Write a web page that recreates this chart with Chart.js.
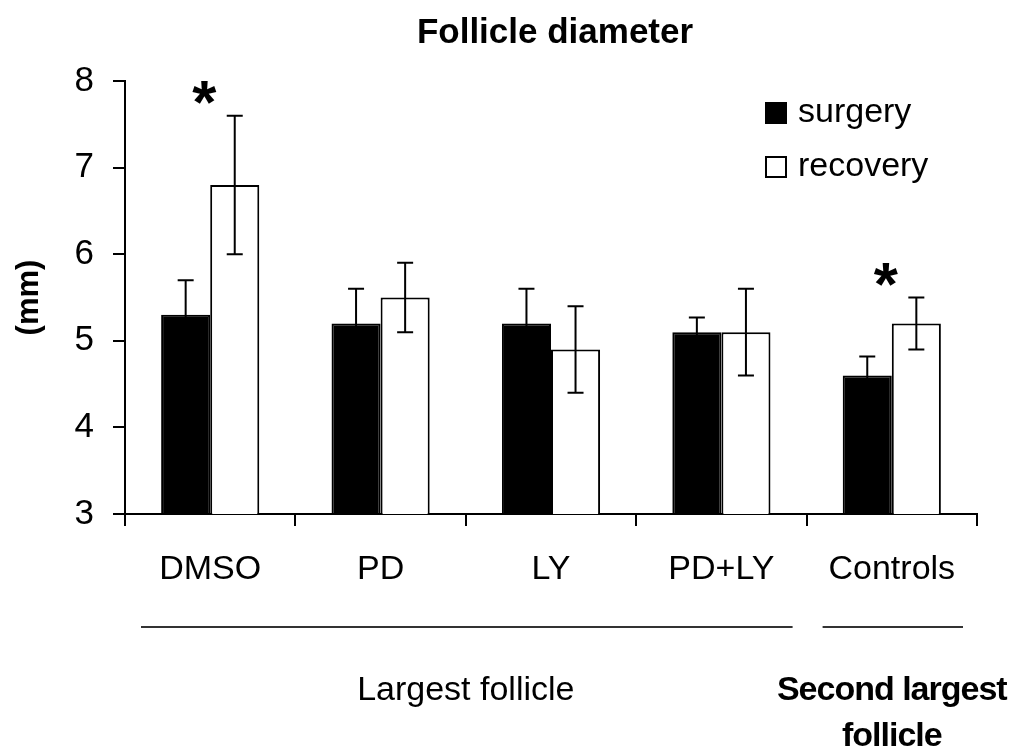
<!DOCTYPE html>
<html>
<head>
<meta charset="utf-8">
<title>Follicle diameter</title>
<script src="https://cdn.jsdelivr.net/npm/chart.js@4.4.0/dist/chart.umd.min.js"></script>
<style>
  html, body { margin: 0; padding: 0; background: #fff; }
  #wrap { width: 1018px; height: 751px; position: relative; }
</style>
</head>
<body>
<div id="wrap"><canvas id="chart"></canvas></div>
<script>
const categories = ["DMSO", "PD", "LY", "PD+LY", "Controls"];
const surgery = [5.3, 5.2, 5.2, 5.1, 4.6];
const surgeryErr = [0.4, 0.4, 0.4, 0.17, 0.22];
const recovery = [6.8, 5.5, 4.9, 5.1, 5.2];
const recoveryErr = [0.8, 0.4, 0.5, 0.5, 0.3];
const significant = [true, false, false, false, true];
const groupNames = [["Largest follicle"], ["Second largest", "follicle"]];
const groupBold = [false, true];
const groupStart = [0, 4];
const groupEnd = [3, 4];

const FONT = "'Liberation Sans', Arial, sans-serif";

// error bars, drawn from each bar's value and its error
const errorBars = {
  id: "errorBars",
  afterDatasetsDraw(chart) {
    const ctx = chart.ctx;
    const y = chart.scales.y;
    ctx.save();
    ctx.strokeStyle = "#000";
    ctx.lineWidth = 2;
    chart.data.datasets.forEach((ds, di) => {
      const meta = chart.getDatasetMeta(di);
      meta.data.forEach((bar, i) => {
        const top = y.getPixelForValue(ds.data[i] + ds.errors[i]);
        const bot = y.getPixelForValue(ds.data[i] - ds.errors[i]);
        const cap = 8;
        ctx.beginPath();
        ctx.moveTo(bar.x, top);
        ctx.lineTo(bar.x, bot);
        ctx.moveTo(bar.x - cap, top);
        ctx.lineTo(bar.x + cap, top);
        ctx.moveTo(bar.x - cap, bot);
        ctx.lineTo(bar.x + cap, bot);
        ctx.stroke();
      });
    });
    ctx.restore();
  }
};

// title, legend, asterisks and the group labels under the axis
const extras = {
  id: "extras",
  afterDraw(chart) {
    const ctx = chart.ctx;
    const area = chart.chartArea;
    const x = chart.scales.x;
    const y = chart.scales.y;
    const step = x.getPixelForValue(1) - x.getPixelForValue(0);
    ctx.save();
    ctx.fillStyle = "#000";

    // title
    ctx.font = "bold 35px " + FONT;
    ctx.textAlign = "center";
    ctx.textBaseline = "middle";
    ctx.fillText("Follicle diameter", (area.left + area.right) / 2 + 4, 33);

    // legend
    const lx = area.right - 212;
    chart.data.datasets.forEach((ds, i) => {
      const cy = 113 + i * 54;
      ctx.fillStyle = ds.backgroundColor;
      ctx.fillRect(lx, cy - 11, 22, 22);
      ctx.strokeStyle = "#000";
      ctx.lineWidth = 2;
      ctx.strokeRect(lx + 1, cy - 10, 20, 20);
      ctx.fillStyle = "#000";
      ctx.font = "34px " + FONT;
      ctx.textAlign = "left";
      ctx.fillText(ds.label, lx + 33, cy);
    });

    // asterisks over significant groups
    ctx.font = "bold 62px " + FONT;
    ctx.textAlign = "center";
    ctx.textBaseline = "alphabetic";
    significant.forEach((s, i) => {
      if (!s) return;
      const top = y.getPixelForValue(recovery[i] + recoveryErr[i]);
      ctx.fillText("*", x.getPixelForValue(i) - 6, top - 25 + 32);
    });

    // group lines and labels
    ctx.strokeStyle = "#333";
    ctx.lineWidth = 2;
    groupNames.forEach((lines, g) => {
      const x0 = x.getPixelForValue(groupStart[g]) - step / 2;
      const x1 = x.getPixelForValue(groupEnd[g]) + step / 2;
      ctx.beginPath();
      ctx.moveTo(x0 + 16, 627);
      ctx.lineTo(x1 - 14, 627);
      ctx.stroke();
      ctx.font = (groupBold[g] ? "bold 34px " : "34px ") + FONT;
      ctx.letterSpacing = groupBold[g] ? "-1px" : "0px";
      ctx.textBaseline = "middle";
      lines.forEach((t, k) => {
        ctx.fillText(t, (x0 + x1) / 2, 691 + k * 46);
      });
    });
    ctx.restore();
  }
};

new Chart(document.getElementById("chart"), {
  type: "bar",
  data: {
    labels: categories,
    datasets: [
      {
        label: "surgery",
        data: surgery,
        errors: surgeryErr,
        backgroundColor: "#000",
        borderColor: "#000",
        borderWidth: 2,
        barPercentage: 1,
        categoryPercentage: 0.576
      },
      {
        label: "recovery",
        data: recovery,
        errors: recoveryErr,
        backgroundColor: "#fff",
        borderColor: "#000",
        borderWidth: 2,
        barPercentage: 1,
        categoryPercentage: 0.576
      }
    ]
  },
  options: {
    responsive: true,
    maintainAspectRatio: false,
    animation: false,
    layout: { padding: { top: 81, right: 41, left: 0, bottom: 0 } },
    plugins: {
      legend: { display: false },
      tooltip: { enabled: false }
    },
    scales: {
      x: {
        type: "category",
        offset: true,
        grid: { offset: true, drawOnChartArea: false, tickLength: 12, color: "#000", lineWidth: 2 },
        border: { display: true, color: "#000", width: 2 },
        ticks: { color: "#000", font: { family: FONT, size: 34 }, padding: 23, maxRotation: 0, autoSkip: false },
        afterFit(scale) { scale.height = 237; }
      },
      y: {
        min: 3,
        max: 8,
        grid: { drawOnChartArea: false, tickLength: 12, color: "#000", lineWidth: 2 },
        border: { display: true, color: "#000", width: 2 },
        ticks: {
          stepSize: 0.5,
          color: "#000",
          font: { family: FONT, size: 35 },
          padding: 19,
          callback: (v) => (Number.isInteger(v) ? v : "")
        },
        title: {
          display: true,
          text: "(mm)",
          color: "#000",
          font: { family: FONT, size: 31, weight: "bold" },
          padding: { top: 11, bottom: 0 }
        },
        afterFit(scale) { scale.width = 125; }
      }
    }
  },
  plugins: [errorBars, extras]
});
</script>
</body>
</html>
